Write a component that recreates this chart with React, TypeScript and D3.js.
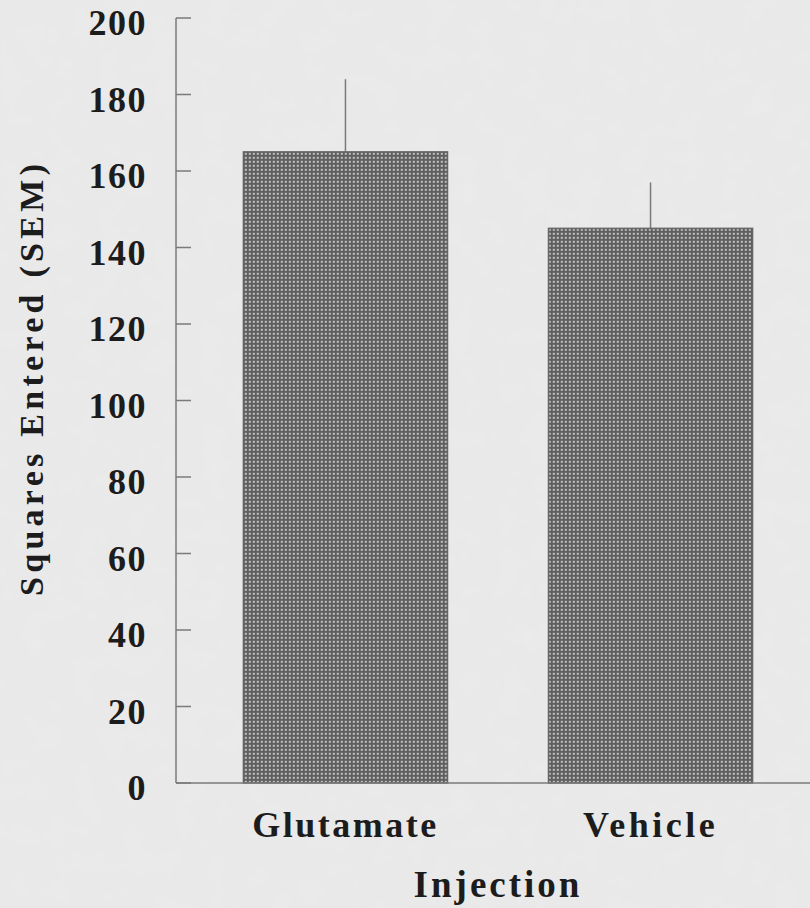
import React from "react";
import * as d3 from "d3";

const categories = ["Glutamate", "Vehicle"];
const means = [165, 145];
const sems = [19, 12];
const yTicks = [0, 20, 40, 60, 80, 100, 120, 140, 160, 180, 200];
const xTitle = "Injection";
const yTitle = "Squares Entered (SEM)";

const W = 810;
const H = 908;
const FONT = "'Liberation Serif', 'Times New Roman', serif";

export default function App() {
  const y = d3.scaleLinear().domain([0, 200]).range([783, 18]);
  const x = d3
    .scaleBand<string>()
    .domain(categories)
    .range([176, 820])
    .paddingInner(0.331)
    .paddingOuter(0.221);
  const axisX = 176;
  const axisColor = "#7a7a7a";
  const textColor = "#1c1c1c";
  const labelSpacing = [2.5, 3.5];

  return (
    <svg
      width={W}
      height={H}
      style={{ position: "absolute", left: 0, top: 0, display: "block" }}
    >
      <defs>
        <pattern id="checker" width="4" height="4" patternUnits="userSpaceOnUse">
          <rect width="4" height="4" fill="#5f5f5f" />
          <rect x="0.8" y="0.8" width="2" height="2" fill="#c2c2c2" />
        </pattern>
        <filter id="paper" x="0" y="0" width="100%" height="100%">
          <feTurbulence type="fractalNoise" baseFrequency="0.04" numOctaves="3" seed="3" result="n" />
          <feColorMatrix
            in="n"
            type="matrix"
            values="0 0 0 0 0.9  0 0 0 0 0.9  0 0 0 0 0.9  0.35 0.35 0.35 0 -0.45"
            result="c"
          />
          <feComposite in="c" in2="SourceGraphic" operator="over" />
        </filter>
      </defs>
      <rect width={W} height={H} fill="#e9e9e9" />
      <rect width={W} height={H} fill="#e9e9e9" filter="url(#paper)" opacity={0.6} />

      {/* bars */}
      {categories.map((c, i) => (
        <g key={c}>
          <line
            x1={(x(c) as number) + x.bandwidth() / 2}
            x2={(x(c) as number) + x.bandwidth() / 2}
            y1={y(means[i])}
            y2={y(means[i] + sems[i])}
            stroke={axisColor}
            strokeWidth={1.5}
          />
          <rect
            x={x(c)}
            y={y(means[i])}
            width={x.bandwidth()}
            height={y(0) - y(means[i])}
            fill="url(#checker)"
            stroke="#666"
            strokeWidth={1.5}
          />
        </g>
      ))}

      {/* y axis */}
      <line x1={axisX} x2={axisX} y1={y(200)} y2={y(0)} stroke={axisColor} strokeWidth={1.5} />
      <line x1={axisX} x2={810} y1={y(0)} y2={y(0)} stroke={axisColor} strokeWidth={1.5} />
      {yTicks.map((t) => (
        <g key={t}>
          <line x1={axisX} x2={axisX + 15} y1={y(t)} y2={y(t)} stroke={axisColor} strokeWidth={1.5} />
          <text
            x={147}
            y={y(t) + 17}
            textAnchor="end"
            fontFamily={FONT}
            fontWeight="bold"
            fontSize={36}
            letterSpacing={1.5}
            fill={textColor}
          >
            {t}
          </text>
        </g>
      ))}

      {/* x labels */}
      {categories.map((c, i) => (
        <text
          key={c}
          x={(x(c) as number) + x.bandwidth() / 2}
          y={837}
          textAnchor="middle"
          fontFamily={FONT}
          fontWeight="bold"
          fontSize={36}
          letterSpacing={labelSpacing[i]}
          fill={textColor}
        >
          {c}
        </text>
      ))}

      <text
        x={498}
        y={897}
        textAnchor="middle"
        fontFamily={FONT}
        fontWeight="bold"
        fontSize={37}
        letterSpacing={3}
        fill={textColor}
      >
        {xTitle}
      </text>

      <text
        transform={`translate(43, 380) rotate(-90)`}
        textAnchor="middle"
        fontFamily={FONT}
        fontWeight="bold"
        fontSize={34}
        fill={textColor}
        textLength={432}
        lengthAdjust="spacing"
      >
        {yTitle}
      </text>
    </svg>
  );
}
